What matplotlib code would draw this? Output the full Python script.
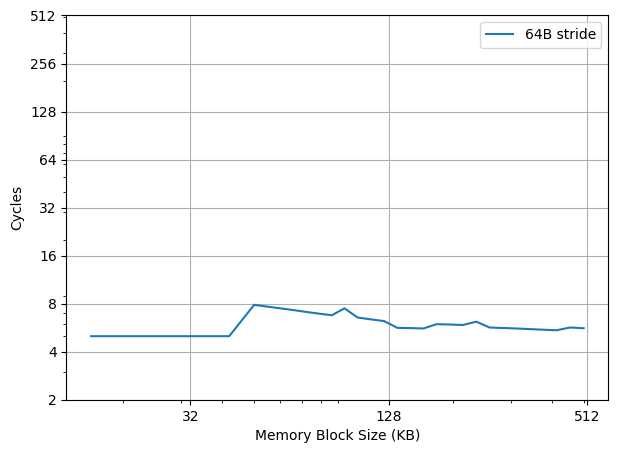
# Cache latency sweep, 64 byte stride
import numpy as np
import matplotlib
matplotlib.use('Agg')
import matplotlib.pyplot as plt

# block sizes in KB (each step ~10% larger)
sizes = [16, 17, 18, 19, 20, 22, 24, 26, 28, 30, 33, 36, 39, 42, 46, 50,
         55, 60, 66, 72, 79, 86, 94, 103, 113, 124, 136, 149, 163, 179,
         196, 215, 236, 259, 284, 312, 343, 377, 414, 455, 500]
# average cycles per access
cycles = [5.02, 5.02, 5.02, 5.02, 5.02, 5.02, 5.02, 5.02, 5.02, 5.02, 5.02,
          5.02, 5.02, 5.02, 6.36, 7.89, 7.68, 7.50, 7.31, 7.12, 6.94, 6.79,
          7.50, 6.57, 6.40, 6.24, 5.66, 5.64, 5.61, 5.97, 5.94, 5.90, 6.19,
          5.69, 5.65, 5.61, 5.56, 5.51, 5.47, 5.69, 5.63]

x_ticks = [32, 128, 512]
y_ticks = [2, 4, 8, 16, 32, 64, 128, 256, 512]

fig = plt.figure(figsize=(6.18, 4.53), dpi=100)
ax = fig.add_axes([0.1076, 0.117, 0.8767, 0.8488])

ax.plot(sizes, cycles, label='64B stride')

ax.set_xscale('log')
ax.set_yscale('log')
ax.set_xticks(x_ticks, [str(t) for t in x_ticks])
ax.set_yticks(y_ticks, [str(t) for t in y_ticks])
ax.set_ylim(2, 512)

ax.grid(True)
ax.set_xlabel('Memory Block Size (KB)')
ax.set_ylabel('Cycles')
ax.legend(loc='upper right')

fig.savefig('out.png', dpi=100)
